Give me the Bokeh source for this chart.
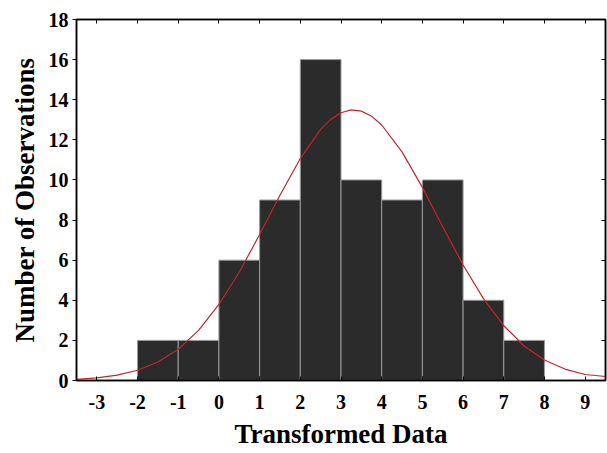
from bokeh.plotting import figure
from bokeh.models import LinearAxis, FixedTicker, Range1d
from bokeh.embed import file_html
from bokeh.resources import INLINE

# Histogram bins (left edges, right edges) and counts
bin_left = [-2, -1, 0, 1, 2, 3, 4, 5, 6, 7]
bin_right = [-1, 0, 1, 2, 3, 4, 5, 6, 7, 8]
counts = [2, 2, 6, 9, 16, 10, 9, 10, 4, 2]

# Fitted normal curve
curve_x = [-3.5, -3.0, -2.5, -2.0, -1.5, -1.0, -0.5, 0.0, 0.5, 1.0, 1.5, 2.0, 2.5, 2.75,
           3.0, 3.25, 3.5, 3.75, 4.0, 4.5, 5.0, 5.5, 6.0, 6.5, 7.0, 7.5, 8.0, 8.5, 9.0, 9.5]
curve_y = [0.06, 0.13, 0.27, 0.51, 0.92, 1.56, 2.50, 3.79, 5.40, 7.28, 9.24, 11.07, 12.52, 13.02,
           13.35, 13.49, 13.43, 13.18, 12.74, 11.40, 9.63, 7.67, 5.76, 4.08, 2.73, 1.72, 1.02, 0.57, 0.30, 0.2]

x_ticks = [-3, -2, -1, 0, 1, 2, 3, 4, 5, 6, 7, 8, 9]
x_tick_labels = ["-3", "-2", "-1", "0", "1", "2", "3", "4", "5", "6", "7", "8", "9"]
y_ticks = [0, 2, 4, 6, 8, 10, 12, 14, 16, 18]

FONT = "Liberation Serif"

p = figure(width=607, height=453, output_backend="svg", toolbar_location=None,
           x_range=Range1d(-3.5, 9.5), y_range=Range1d(0, 18),
           min_border_left=76, min_border_right=2, min_border_top=19, min_border_bottom=73)
p.background_fill_color = "white"
p.border_fill_color = "white"
p.outline_line_color = "black"
p.outline_line_width = 1.5
p.xgrid.visible = False
p.ygrid.visible = False

p.quad(left=bin_left, right=bin_right, top=counts, bottom=0,
       fill_color="#2b2b2b", line_color="#9a9a9a", line_width=1)
p.line(curve_x, curve_y, line_color="#c0272d", line_width=1.2)

xa = p.xaxis[0]
xa.ticker = FixedTicker(ticks=x_ticks)
xa.major_label_overrides = dict(zip(x_ticks, x_tick_labels))
xa.major_tick_in = 4
xa.major_tick_out = 0
xa.minor_tick_line_color = None
xa.major_label_standoff = 14
xa.major_label_text_font = FONT
xa.major_label_text_font_style = "bold"
xa.major_label_text_font_size = "20px"
xa.major_label_text_color = "black"
xa.axis_label = "Transformed Data"
xa.axis_label_text_font = FONT
xa.axis_label_text_font_style = "bold"
xa.axis_label_text_font_size = "27px"
xa.axis_label_text_color = "black"
xa.axis_label_standoff = 7
xa.axis_line_color = "black"
xa.axis_line_width = 1.5

ya = p.yaxis[0]
ya.ticker = FixedTicker(ticks=y_ticks)
ya.major_tick_in = 0
ya.major_tick_out = 4
ya.minor_tick_line_color = None
ya.major_label_standoff = 4
ya.major_label_text_font = FONT
ya.major_label_text_font_style = "bold"
ya.major_label_text_font_size = "20px"
ya.major_label_text_color = "black"
ya.axis_label = "Number of Observations"
ya.axis_label_text_font = FONT
ya.axis_label_text_font_style = "bold"
ya.axis_label_text_font_size = "27px"
ya.axis_label_text_color = "black"
ya.axis_label_standoff = 6
ya.axis_line_color = "black"
ya.axis_line_width = 1.5

top = LinearAxis(ticker=FixedTicker(ticks=x_ticks), major_tick_in=4, major_tick_out=0,
                 minor_tick_line_color=None,
                 major_label_overrides={t: "" for t in x_ticks},
                 major_label_standoff=0, axis_line_color="black", axis_line_width=1.5)
right = LinearAxis(ticker=FixedTicker(ticks=y_ticks), major_tick_in=4, major_tick_out=0,
                   minor_tick_line_color=None,
                   major_label_overrides={t: "" for t in y_ticks},
                   major_label_standoff=0, axis_line_color="black", axis_line_width=1.5)
p.add_layout(top, "above")
p.add_layout(right, "right")

open("out.html", "w").write(file_html(p, INLINE))
